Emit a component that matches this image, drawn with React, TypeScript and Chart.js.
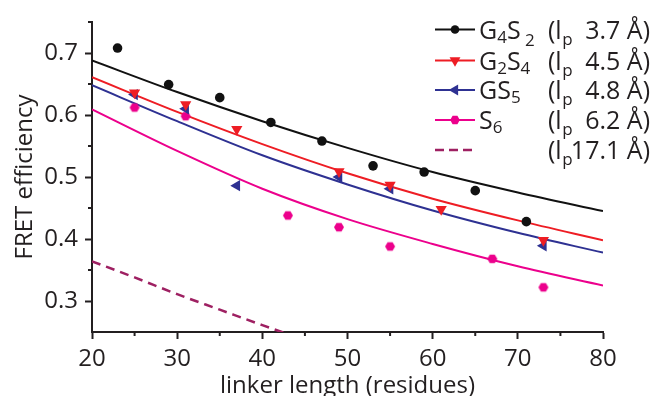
import React, { useEffect, useRef } from 'react';
import { Chart, registerables } from 'chart.js';

Chart.register(...registerables);

// ---- data ----
const fitX = [20, 30, 40, 50, 60, 70, 80];
const fitG4S2 = [0.688, 0.637, 0.59, 0.547, 0.508, 0.475, 0.445];
const fitG2S4 = [0.661, 0.605, 0.553, 0.506, 0.465, 0.43, 0.398];
const fitGS5 = [0.648, 0.59, 0.535, 0.488, 0.446, 0.41, 0.378];
const fitS6 = [0.609, 0.542, 0.481, 0.432, 0.392, 0.356, 0.325];

const wlcX = [20, 25, 30, 35, 40, 45];
const wlcLp171 = [0.364, 0.338, 0.311, 0.286, 0.261, 0.237];

const g4s2X = [23, 29, 35, 41, 47, 53, 59, 65, 71];
const g4s2Y = [0.708, 0.649, 0.628, 0.588, 0.558, 0.518, 0.508, 0.478, 0.428];
const g2s4X = [25, 31, 37, 49, 55, 61, 73];
const g2s4Y = [0.636, 0.617, 0.577, 0.509, 0.487, 0.448, 0.398];
const gs5X = [25, 31, 37, 49, 55, 73];
const gs5Y = [0.633, 0.61, 0.486, 0.5, 0.481, 0.389];
const s6X = [25, 31, 43, 49, 55, 67, 73];
const s6Y = [0.612, 0.598, 0.438, 0.419, 0.388, 0.368, 0.322];

const xTickLabels = ['20', '30', '40', '50', '60', '70', '80'];
const yTickLabels = ['0.3', '0.4', '0.5', '0.6', '0.7'];

const legendNames = [
  [{ t: 'G' }, { t: '4', sub: 1 }, { t: 'S' }, { t: ' 2', sub: 2 }],
  [{ t: 'G' }, { t: '2', sub: 1 }, { t: 'S' }, { t: '4', sub: 1 }],
  [{ t: 'GS' }, { t: '5', sub: 1 }],
  [{ t: 'S' }, { t: '6', sub: 1 }],
  [],
];
const legendLp = ['3.7 Å)', '4.5 Å)', '4.8 Å)', '6.2 Å)', '17.1 Å)'];

const INK = '#231f20';
const BLACK = '#111111';
const RED = '#ee1d24';
const BLUE = '#2e3192';
const PINK = '#ec008c';
const PURPLE = '#9e2062';
const FONT = '"Open Sans", "Noto Sans", sans-serif';

function pts(xs: number[], ys: number[]) {
  return xs.map((x, i) => ({ x, y: ys[i] }));
}

function makeHex(r: number, color: string) {
  const c = document.createElement('canvas');
  const s = Math.ceil(r * 2 + 2);
  c.width = s;
  c.height = s;
  const g = c.getContext('2d')!;
  g.fillStyle = color;
  g.beginPath();
  for (let i = 0; i < 6; i++) {
    const a = (Math.PI / 3) * i;
    const px = s / 2 + Math.cos(a) * r;
    const py = s / 2 + Math.sin(a) * r;
    if (i === 0) g.moveTo(px, py);
    else g.lineTo(px, py);
  }
  g.closePath();
  g.fill();
  return c;
}

function tri(ctx: CanvasRenderingContext2D, x: number, y: number, r: number, rotDeg: number) {
  ctx.beginPath();
  for (let i = 0; i < 3; i++) {
    const a = ((rotDeg + i * 120) * Math.PI) / 180;
    const px = x + Math.sin(a) * r;
    const py = y - Math.cos(a) * r;
    if (i === 0) ctx.moveTo(px, py);
    else ctx.lineTo(px, py);
  }
  ctx.closePath();
  ctx.fill();
}

const isMajorY = (v: number) => yTickLabels.includes(v.toFixed(1)) && Math.abs(v * 10 - Math.round(v * 10)) < 1e-6;
const isMajorX = (v: number) => xTickLabels.includes(String(Math.round(v))) && Math.abs(v - Math.round(v)) < 1e-6;

const extrasPlugin = {
  id: 'extras',
  afterDraw(chart: any) {
    const ctx: CanvasRenderingContext2D = chart.ctx;
    const xs = chart.scales.x;
    const ys = chart.scales.y;
    const area = chart.chartArea;
    ctx.save();
    // minor ticks
    ctx.strokeStyle = INK;
    ctx.lineWidth = 2;
    xs.ticks.forEach((t: any) => {
      if (isMajorX(t.value)) return;
      const px = xs.getPixelForValue(t.value);
      ctx.beginPath();
      ctx.moveTo(px, area.bottom);
      ctx.lineTo(px, area.bottom + 4);
      ctx.stroke();
    });
    ys.ticks.forEach((t: any) => {
      if (isMajorY(t.value)) return;
      const py = ys.getPixelForValue(t.value);
      if (Math.abs(py - area.bottom) < 2) return;
      ctx.beginPath();
      ctx.moveTo(area.left, py);
      ctx.lineTo(area.left - 4, py);
      ctx.stroke();
    });

    // legend
    const rowsY = [29.5, 60.5, 90, 120, 150];
    const colors = [BLACK, RED, BLUE, PINK, PURPLE];
    const x0 = 435;
    const x1 = 475;
    const main = 25;
    const sub = 17;
    rowsY.forEach((cy, i) => {
      ctx.strokeStyle = colors[i];
      ctx.fillStyle = colors[i];
      ctx.lineWidth = i === 4 ? 2.5 : 2;
      ctx.setLineDash(i === 4 ? [9, 5] : []);
      ctx.beginPath();
      ctx.moveTo(x0, cy);
      ctx.lineTo(x1, cy);
      ctx.stroke();
      ctx.setLineDash([]);
      const mx = (x0 + x1) / 2;
      if (i === 0) {
        ctx.beginPath();
        ctx.arc(mx, cy, 4.3, 0, Math.PI * 2);
        ctx.fill();
      } else if (i === 1) {
        tri(ctx, mx, cy, 6.3, 180);
      } else if (i === 2) {
        tri(ctx, mx, cy, 6.3, -90);
      } else if (i === 3) {
        const h = makeHex(4.8, PINK);
        ctx.drawImage(h, mx - h.width / 2, cy - h.height / 2);
      }
      // text
      ctx.fillStyle = INK;
      ctx.textBaseline = 'alphabetic';
      ctx.textAlign = 'left';
      const base = cy + 9;
      let tx = 479;
      legendNames[i].forEach((seg: any) => {
        ctx.font = `${seg.sub ? sub : main}px ${FONT}`;
        const dy = seg.sub === 1 ? 4 : seg.sub === 2 ? 7 : 0;
        ctx.fillText(seg.t, tx, base + dy);
        tx += ctx.measureText(seg.t).width;
      });
      ctx.font = `${main}px ${FONT}`;
      ctx.fillText('(l', 548, base);
      const w = ctx.measureText('(l').width;
      ctx.font = `${sub}px ${FONT}`;
      ctx.fillText('p', 548 + w + 0.5, base + 6);
      ctx.font = `${main}px ${FONT}`;
      ctx.textAlign = 'right';
      ctx.fillText(legendLp[i], 650, base);
    });
    ctx.restore();
  },
};

export default function App() {
  const ref = useRef<HTMLCanvasElement | null>(null);

  useEffect(() => {
    if (!ref.current) return;
    const hex = makeHex(5, PINK);
    const fitDs = (data: number[], color: string) => ({
      type: 'line' as const,
      data: pts(fitX, data),
      borderColor: color,
      borderWidth: 2,
      pointRadius: 0,
      showLine: true,
      cubicInterpolationMode: 'monotone' as const,
      order: 2,
    });
    const chart = new Chart(ref.current, {
      type: 'scatter',
      data: {
        datasets: [
          {
            data: pts(g4s2X, g4s2Y),
            backgroundColor: BLACK,
            borderWidth: 0,
            pointStyle: 'circle',
            pointRadius: 4.8,
            order: 0,
          } as any,
          {
            data: pts(g2s4X, g2s4Y),
            backgroundColor: RED,
            borderWidth: 0,
            pointStyle: 'triangle',
            rotation: 180,
            pointRadius: 6.5,
            order: 0,
          },
          {
            data: pts(gs5X, gs5Y),
            backgroundColor: BLUE,
            borderWidth: 0,
            pointStyle: 'triangle',
            rotation: -90,
            pointRadius: 6.5,
            order: 0,
          },
          {
            data: pts(s6X, s6Y),
            backgroundColor: PINK,
            borderWidth: 0,
            pointStyle: hex,
            pointRadius: 5,
            order: 0,
          },
          fitDs(fitG4S2, BLACK),
          fitDs(fitG2S4, RED),
          fitDs(fitGS5, BLUE),
          fitDs(fitS6, PINK),
          {
            type: 'line',
            data: pts(wlcX, wlcLp171),
            borderColor: PURPLE,
            borderWidth: 2.5,
            borderDash: [9, 6],
            pointRadius: 0,
            showLine: true,
            cubicInterpolationMode: 'monotone',
            order: 2,
          } as any,
        ],
      },
      options: {
        animation: false,
        responsive: false,
        layout: { padding: { top: 22, right: 51, left: 0, bottom: 0 } },
        plugins: { legend: { display: false }, tooltip: { enabled: false } },
        scales: {
          x: {
            type: 'linear',
            min: 20,
            max: 80,
            afterFit: (s: any) => {
              s.height = 64;
            },
            border: { display: true, color: INK, width: 2 },
            grid: {
              drawOnChartArea: false,
              drawTicks: true,
              tickLength: 7,
              tickWidth: 2,
              tickColor: (c: any) => (c.tick && isMajorX(c.tick.value) ? INK : 'rgba(0,0,0,0)'),
            },
            ticks: {
              stepSize: 5,
              padding: 6,
              color: INK,
              font: { family: FONT, size: 24 },
              maxRotation: 0,
              autoSkip: false,
              callback: (v: any) => {
                const s = String(Math.round(Number(v)));
                return isMajorX(Number(v)) ? xTickLabels[xTickLabels.indexOf(s)] : '';
              },
            },
            title: {
              display: true,
              text: 'linker length (residues)',
              color: INK,
              font: { family: FONT, size: 24, lineHeight: 0.85 },
              padding: { top: 0, bottom: 0 },
            },
          },
          y: {
            type: 'linear',
            min: 0.25,
            max: 0.75,
            afterFit: (s: any) => {
              s.width = 92;
            },
            border: { display: true, color: INK, width: 2 },
            grid: {
              drawOnChartArea: false,
              drawTicks: true,
              tickLength: 7,
              tickWidth: 2,
              tickColor: (c: any) => (c.tick && isMajorY(c.tick.value) ? INK : 'rgba(0,0,0,0)'),
            },
            ticks: {
              stepSize: 0.05,
              padding: 7,
              color: INK,
              font: { family: FONT, size: 24 },
              autoSkip: false,
              callback: (v: any) => {
                const n = Number(v);
                return isMajorY(n) ? yTickLabels[yTickLabels.indexOf(n.toFixed(1))] : '';
              },
            },
            title: {
              display: true,
              text: 'FRET efficiency',
              color: INK,
              font: { family: FONT, size: 24 },
              padding: { top: 11, bottom: 0 },
            },
          },
        },
      },
      plugins: [extrasPlugin],
    } as any);
    return () => chart.destroy();
  }, []);

  return (
    <div style={{ position: 'fixed', left: 0, top: 0, width: 654, height: 396, background: '#fff' }}>
      <canvas ref={ref} width={654} height={396} style={{ display: 'block' }} />
    </div>
  );
}
